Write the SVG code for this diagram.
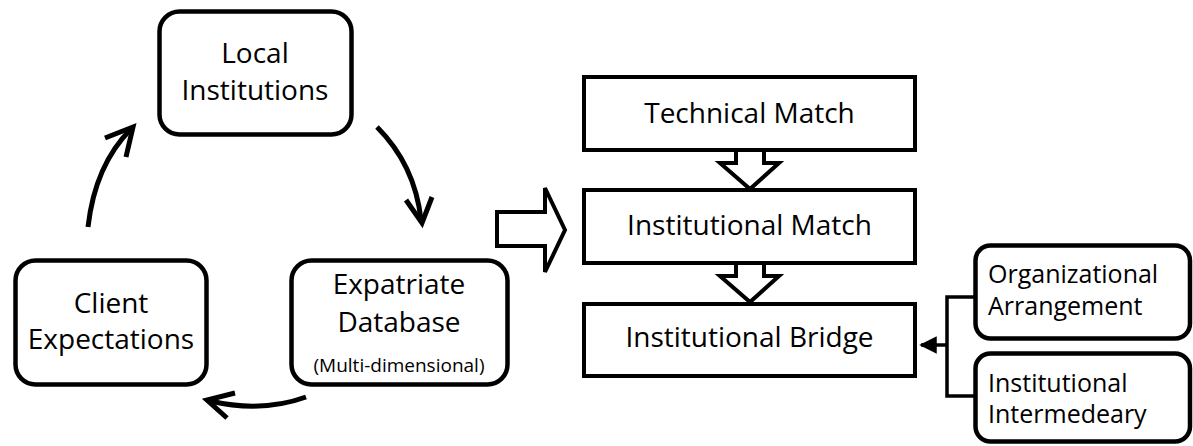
<svg xmlns="http://www.w3.org/2000/svg" width="1193" height="446" viewBox="0 0 1193 446">
  <defs>
    <style>
      .rbox { fill: #fff; stroke: #000; stroke-width: 4.5; }
      .box { fill: #fff; stroke: #000; stroke-width: 4; }
      .t { font-family: "Open Sans", "Noto Sans", sans-serif; font-size: 28px; fill: #000; text-anchor: middle; }
      .ts { font-family: "Open Sans", "Noto Sans", sans-serif; font-size: 19px; fill: #000; text-anchor: middle; }
      .tl { font-family: "Open Sans", "Noto Sans", sans-serif; font-size: 25px; fill: #000; }
      .curve { fill: none; stroke: #000; stroke-width: 5; }
      .head { fill: none; stroke: #000; stroke-width: 5; stroke-linejoin: miter; }
      .block { fill: #fff; stroke: #000; stroke-width: 4; stroke-linejoin: miter; }
      .conn { fill: none; stroke: #000; stroke-width: 3.5; }
    </style>
    <marker id="tri" viewBox="0 0 10 10" refX="9" refY="5" markerWidth="5" markerHeight="5.5" orient="auto" markerUnits="strokeWidth">
      <path d="M0,0 L10,5 L0,10 Z" fill="#000"/>
    </marker>
  </defs>

  <g id="connectors">
    <path class="curve" d="M88,227 Q95,165 131,129"/>
    <path class="head" d="M105,138 L133,127 L126,157"/>
    <path class="curve" d="M377,127 Q415,165 421,220"/>
    <path class="head" d="M406,200 L422,223 L432,197"/>
    <path class="curve" d="M306,397 Q262,413 210,401"/>
    <path class="head" d="M235,393 L207,400 L227,418"/>
    <path class="block" d="M497,212 L545,212 L545,188 L565,230 L545,272 L545,246 L497,246 Z"/>
    <path class="block" d="M736,150 L736,163 L720,163 L750,189 L779,163 L764,163 L764,150"/>
    <path class="block" d="M736,263 L736,276 L720,276 L750,302 L779,276 L764,276 L764,263"/>
    <path class="conn" d="M975,297 L947,297 L947,396 L975,396"/>
    <path class="conn" d="M947,345 L921,345" marker-end="url(#tri)"/>
  </g>

  <g id="local-institutions">
    <rect class="rbox" x="159.5" y="11.5" width="192" height="123" rx="20"/>
    <text class="t" x="255" y="63">Local</text>
    <text class="t" x="255" y="100">Institutions</text>
  </g>

  <g id="client-expectations">
    <rect class="rbox" x="15.5" y="260.5" width="191" height="124" rx="20"/>
    <text class="t" x="111" y="313">Client</text>
    <text class="t" x="111" y="349">Expectations</text>
  </g>

  <g id="expatriate-database">
    <rect class="rbox" x="291.5" y="260.5" width="216" height="124" rx="20"/>
    <text class="t" x="399" y="294">Expatriate</text>
    <text class="t" x="399" y="332">Database</text>
    <text class="ts" x="399" y="372">(Multi-dimensional)</text>
  </g>

  <g id="technical-match">
    <rect class="box" x="584" y="77" width="331" height="73"/>
    <text class="t" x="749.5" y="123">Technical Match</text>
  </g>

  <g id="institutional-match">
    <rect class="box" x="584" y="190" width="331" height="73"/>
    <text class="t" x="749.5" y="235">Institutional Match</text>
  </g>

  <g id="institutional-bridge">
    <rect class="box" x="584" y="304" width="331" height="72"/>
    <text class="t" x="749.5" y="347">Institutional Bridge</text>
  </g>

  <g id="organizational-arrangement">
    <rect class="rbox" x="975.5" y="245.5" width="214.5" height="93" rx="15"/>
    <text class="tl" x="988" y="283">Organizational</text>
    <text class="tl" x="988" y="315">Arrangement</text>
  </g>

  <g id="institutional-intermedeary">
    <rect class="rbox" x="975.5" y="353.5" width="214.5" height="88" rx="15"/>
    <text class="tl" x="988" y="392">Institutional</text>
    <text class="tl" x="988" y="423">Intermedeary</text>
  </g>
</svg>
